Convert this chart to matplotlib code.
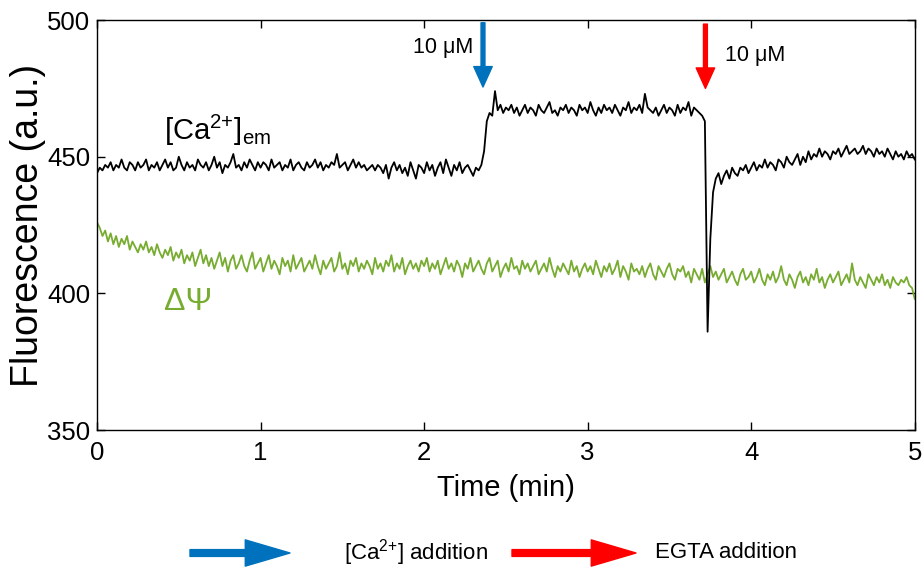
import numpy as np
import matplotlib
matplotlib.use('Agg')
import matplotlib.pyplot as plt
from matplotlib.patches import FancyArrowPatch

plt.rcParams['font.family'] = ['Liberation Sans', 'DejaVu Sans']
plt.rcParams['mathtext.fontset'] = 'custom'
plt.rcParams['mathtext.rm'] = 'Liberation Sans'
plt.rcParams['mathtext.it'] = 'Liberation Sans'

# one sample per second, 0..5 min
sample_min = 1.0 / 60

ca_em = [
    444, 446, 445, 447, 446, 448, 445, 447, 446, 449, 446, 445, 448, 447, 445, 448, 446, 447, 449, 445,
    447, 446, 448, 445, 447, 449, 446, 448, 445, 446, 450, 447, 445, 448, 446, 447, 445, 449, 447, 446,
    448, 445, 447, 450, 446, 448, 444, 447, 446, 448, 451, 446, 447, 445, 448, 446, 449, 447, 445, 448,
    446, 448, 447, 445, 449, 446, 447, 448, 445, 447, 446, 449, 445, 447, 448, 446, 445, 448, 446, 447,
    449, 446, 448, 445, 447, 446, 448, 447, 451, 446, 447, 448, 445, 447, 449, 446, 448, 446, 447, 445,
    446, 447, 445, 447, 446, 444, 447, 442, 446, 448, 445, 447, 444, 446, 443, 448, 445, 442, 447, 446,
    444, 448, 445, 447, 443, 446, 448, 444, 449, 446, 443, 447, 445, 448, 444, 446, 447, 445, 443, 446,
    445, 447,
    452, 463, 466, 465, 474, 467, 469,
    466, 468, 467, 469, 466, 468, 465, 467, 469, 466, 468, 467, 465, 469, 467, 466, 468, 470, 466, 467,
    465, 468, 467, 469, 466, 468, 467, 465, 469, 467, 468, 466, 470, 467, 465, 468, 466, 469, 467, 468,
    466, 469, 467, 465, 468, 467, 470, 466, 468, 467, 469, 466, 473, 468, 467, 466, 468, 465, 467, 469,
    466, 468, 467, 465, 469, 466, 468, 467, 470, 465, 468, 467, 466, 465,
    463, 386, 420, 437, 442,
    444, 440, 443, 445, 442, 446, 444, 443, 446, 445, 447, 444, 446, 448, 445, 447, 446, 449, 446, 448,
    447, 445, 449, 448, 446, 450, 448, 447, 449, 451, 447, 450, 448, 452, 449, 451, 450, 453, 450, 452,
    451, 449, 452, 451, 453, 450, 452, 454, 451, 452, 453, 451, 452, 454, 451, 453, 452, 450, 453, 451,
    452, 450, 453, 451, 449, 452, 450, 451, 449, 452, 450, 451, 449,
]

dpsi = [
    426, 424, 421, 423, 419, 422, 418, 421, 417, 420, 418, 421, 416, 419, 417, 415, 418, 416, 419, 415,
    417, 414, 418, 415, 413, 416, 414, 417, 412, 415, 413, 416, 411, 414, 412, 415, 410, 413, 416, 411,
    414, 410, 413, 409, 412, 415, 410, 413, 408, 412, 414, 409, 411, 414, 410, 408, 412, 415, 409, 411,
    413, 408, 411, 414, 409, 412, 410, 407, 413, 410, 412, 408, 414, 409, 411, 413, 408, 410, 412, 409,
    414, 410, 407, 412, 409, 411, 413, 408, 410, 415, 409, 411, 407, 412, 410, 413, 408, 411, 409, 412,
    410, 407, 413, 409, 411, 408, 412, 410, 414, 408, 411, 409, 413, 407, 410, 412, 409, 411, 408, 412,
    410, 413, 408, 411, 409, 412, 407, 410, 413, 409, 411, 408, 412, 410, 406, 411, 409, 413, 408, 410,
    412, 409, 407, 411, 413, 408, 410, 412, 406, 409, 411, 408, 413, 409, 410, 407, 412, 409, 411, 408,
    410, 412, 407, 409, 411, 408, 413, 409, 406, 410, 408, 411, 409, 407, 412, 408, 410, 406, 409, 411,
    408, 410, 407, 412, 409, 406, 410, 408, 411, 407, 409, 412, 406, 410, 408, 405, 411, 408, 409, 407,
    410, 406, 409, 411, 407, 405, 410, 408, 406, 409, 411, 407, 405, 409, 408, 410, 406, 408, 404, 409,
    407, 405, 409, 404, 407, 410, 406, 408, 405, 407, 409, 404, 406, 408, 405, 403, 407, 409, 405, 406,
    408, 404, 406, 409, 405, 403, 407, 405, 408, 404, 406, 410, 405, 403, 407, 405, 402, 406, 408, 404,
    406, 403, 407, 405, 409, 404, 406, 402, 405, 407, 404, 406, 408, 403, 405, 407, 404, 411, 405, 403,
    406, 404, 402, 407, 405, 403, 406, 404, 407, 403, 405, 402, 406, 404, 403, 405, 404, 406, 403, 402,
    398,
]

ca_add_t = 2.36
egta_add_t = 3.72

t = np.arange(len(ca_em)) * sample_min

blue = '#0072BD'
red = '#FF0000'
green = '#77AC30'

fig = plt.figure(figsize=(9.24, 5.72), dpi=100)
ax = fig.add_axes([0.105, 0.248, 0.885, 0.717])

ax.plot(t, dpsi, color=green, lw=1.3)
ax.plot(t, ca_em, color='black', lw=1.3)

ax.set_xlim(0, 5)
ax.set_ylim(350, 500)
ax.set_xticks([0, 1, 2, 3, 4, 5])
ax.set_yticks([350, 400, 450, 500])
ax.tick_params(direction='in', top=True, right=True, labelsize=18.5, length=6, width=1)
ax.tick_params(axis='y', pad=5)
ax.tick_params(axis='x', pad=8)
for s in ax.spines.values():
    s.set_linewidth(1)
ax.set_xlabel('Time (min)', fontsize=21, labelpad=6)
ax.set_ylabel('Fluorescence (a.u.)', fontsize=27, labelpad=1)

ax.text(0.41, 456, r'[Ca$^{2{+}}$]$_{em}$', fontsize=21, ha='left', va='baseline')
ax.text(0.41, 394, '\u0394\u03a8', fontsize=23, color=green, ha='left', va='baseline')

# addition arrows
arr = 'simple,head_length=1.05,head_width=0.95,tail_width=0.2'
ax.annotate('', xy=(ca_add_t, 475.5), xytext=(ca_add_t, 499),
            arrowprops=dict(arrowstyle=arr, color=blue, mutation_scale=14, shrinkA=0, shrinkB=0))
ax.annotate('', xy=(egta_add_t, 475), xytext=(egta_add_t, 498.5),
            arrowprops=dict(arrowstyle=arr, color=red, mutation_scale=14, shrinkA=0, shrinkB=0))
ax.text(2.3, 490, '10 \u03bcM', fontsize=15.5, ha='right', va='center')
ax.text(3.84, 487, '10 \u03bcM', fontsize=15.5, ha='left', va='center')

# bottom key
def key_arrow(x0, x1, y, c):
    a = FancyArrowPatch((x0 / 924, y), (x1 / 924, y), transform=fig.transFigure,
                        arrowstyle='simple,head_length=2.3,head_width=1.35,tail_width=0.35',
                        color=c, mutation_scale=14, shrinkA=0, shrinkB=0, capstyle='round')
    fig.add_artist(a)

key_y = 1 - 553 / 572
key_arrow(190, 290, key_y, blue)
key_arrow(512, 636, key_y, red)
fig.text(344 / 924, key_y, r'[Ca$^{2{+}}$] addition', fontsize=16, ha='left', va='center')
fig.text(655 / 924, key_y, 'EGTA addition', fontsize=16, ha='left', va='center')

plt.savefig('out.png', dpi=100)
